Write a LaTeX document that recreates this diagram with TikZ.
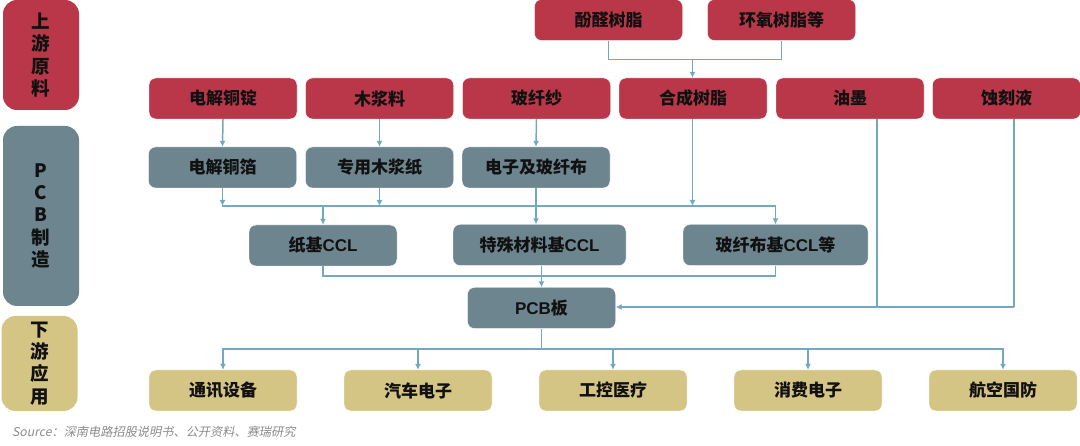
\documentclass[tikz,border=0pt]{standalone}
\usepackage{fontspec}
\setmainfont{Noto Sans CJK SC}
\newfontfamily\srcfont[FakeSlant=0.2]{Noto Sans CJK SC}
\newfontfamily\latfont{Liberation Sans}
\usetikzlibrary{arrows.meta}
\definecolor{cred}{HTML}{B93749}
\definecolor{cgrey}{HTML}{6C858F}
\definecolor{ctan}{HTML}{D4C585}
\definecolor{cline}{HTML}{72A9BF}
\definecolor{ctext}{HTML}{111111}
\newcommand{\lt}[1]{{\latfont\fontsize{17}{18}\selectfont #1}}
\tikzset{
  box/.style={rounded corners=7pt,draw=white,line width=0.4pt,minimum height=41pt,inner sep=0pt,text=ctext,font=\fontsize{17}{18}\selectfont\bfseries},
  redbox/.style={box,fill=cred,minimum width=148pt},
  greybox/.style={box,fill=cgrey,minimum width=148pt},
  tanbox/.style={box,fill=ctan,minimum width=148pt},
  sidebox/.style={rounded corners=14pt,minimum width=76pt,inner sep=0pt,text=ctext,align=center,font=\fontsize{18.5}{22.3}\selectfont\bfseries},
  conn/.style={draw=cline,line width=1.5pt},
  arr/.style={conn,-{Latex[length=6pt,width=6pt]}}
}
\begin{document}
\begin{tikzpicture}[x=1pt,y=-1pt]
\path[use as bounding box,fill=white] (0,0) rectangle (1080,446);
% side
\node[sidebox,fill=cred,minimum height=110pt] (s1) at (41,55) {上\\游\\原\\料};
\node[sidebox,fill=cgrey,minimum height=180pt] (s2) at (41,216) {P\\C\\B\\制\\造};
\node[sidebox,fill=ctan,minimum height=95pt] (s3) at (39.5,363.5) {下\\游\\应\\用};
% top
\node[redbox] (pf) at (608.5,20) {酚醛树脂};
\node[redbox] (ep) at (781.5,20) {环氧树脂等};
% raw
\node[redbox] (r1) at (223,98.5) {电解铜锭};
\node[redbox] (r2) at (379.5,98.5) {木浆料};
\node[redbox] (r3) at (536.5,98.5) {玻纤纱};
\node[redbox] (r4) at (693,98.5) {合成树脂};
\node[redbox] (r5) at (850,98.5) {油墨};
\node[redbox] (r6) at (1006.5,98.5) {蚀刻液};
% mid
\node[greybox] (g1) at (222.5,167.5) {电解铜箔};
\node[greybox] (g2) at (379.5,167.5) {专用木浆纸};
\node[greybox] (g3) at (536,167.5) {电子及玻纤布};
% ccl
\node[greybox] (c1) at (323,245.5) {纸基\lt{CCL}};
\node[greybox,minimum width=173pt] (c2) at (539.5,245) {特殊材料基\lt{CCL}};
\node[greybox,minimum width=185pt] (c3) at (775.5,245) {玻纤布基\lt{CCL}等};
% pcb
\node[greybox] (pcb) at (541.5,308) {\lt{PCB}板};
% bottom
\node[tanbox] (t1) at (223,390.5) {通讯设备};
\node[tanbox] (t2) at (418,390.5) {汽车电子};
\node[tanbox] (t3) at (613,390.5) {工控医疗};
\node[tanbox] (t4) at (808,390.5) {消费电子};
\node[tanbox] (t5) at (1003,390.5) {航空国防};
% source
\node[anchor=west,inner sep=0pt,text=gray!90,font=\fontsize{12.2}{14}\srcfont] (src) at (12,431.5) {Source：深南电路招股说明书、公开资料、赛瑞研究};
% coordinates
\coordinate (j1) at (692.5,59.5);
\coordinate (b1) at (222.5,206);
\coordinate (b2) at (775.5,206);
\coordinate (b3) at (323,206);
\coordinate (b4) at (379.5,206);
\coordinate (b5) at (536,206);
\coordinate (b6) at (692.5,206);
\coordinate (d1) at (323,276);
\coordinate (d2) at (775.5,276);
\coordinate (e0) at (541.5,349);
\coordinate (e1) at (223,349);
\coordinate (e2) at (418,349);
\coordinate (e3) at (613,349);
\coordinate (e4) at (808,349);
\coordinate (e5) at (1003,349);
\coordinate (q1) at (877,307);
\coordinate (q2) at (1014,307);
% top merge
\draw[conn] (pf.south) |- (j1) -| (ep.south);
\draw[arr] (j1) -- (r4.north -| j1);
% raw to mid
\draw[arr] (r1.south) -- (g1.north);
\draw[arr] (r2.south) -- (g2.north);
\draw[arr] (r3.south) -- (g3.north);
% mid to bus
\draw[arr] (g1.south) -- (b1);
\draw[arr] (g2.south) -- (b4);
\draw[conn] (g3.south) -- (b5);
\draw[arr] (r4.south -| b6) -- (b6);
\draw[conn,line cap=rect] (b1) -- (b2);
\draw[arr] (b3) -- (c1.north);
\draw[arr] (b5) -- (c2.north -| b5);
\draw[arr] (b2) -- (c3.north);
% ccl to pcb
\draw[conn] (c1.south) |- (d1) -- (d2) -- (c3.south);
\draw[arr] (c2.south -| pcb) -- (pcb.north);
% right
\draw[conn] (q1 |- r5.south) -- (q1);
\draw[conn] (q2 |- r6.south) -- (q2);
\draw[arr] (q2) -- (pcb.east |- q2);
% bottom
\draw[conn] (pcb.south) -- (e0);
\draw[conn,line cap=rect] (e1) -- (e5);
\draw[arr] (e1) -- (t1.north);
\draw[arr] (e2) -- (t2.north);
\draw[arr] (e3) -- (t3.north);
\draw[arr] (e4) -- (t4.north);
\draw[arr] (e5) -- (t5.north);
\end{tikzpicture}
\end{document}
